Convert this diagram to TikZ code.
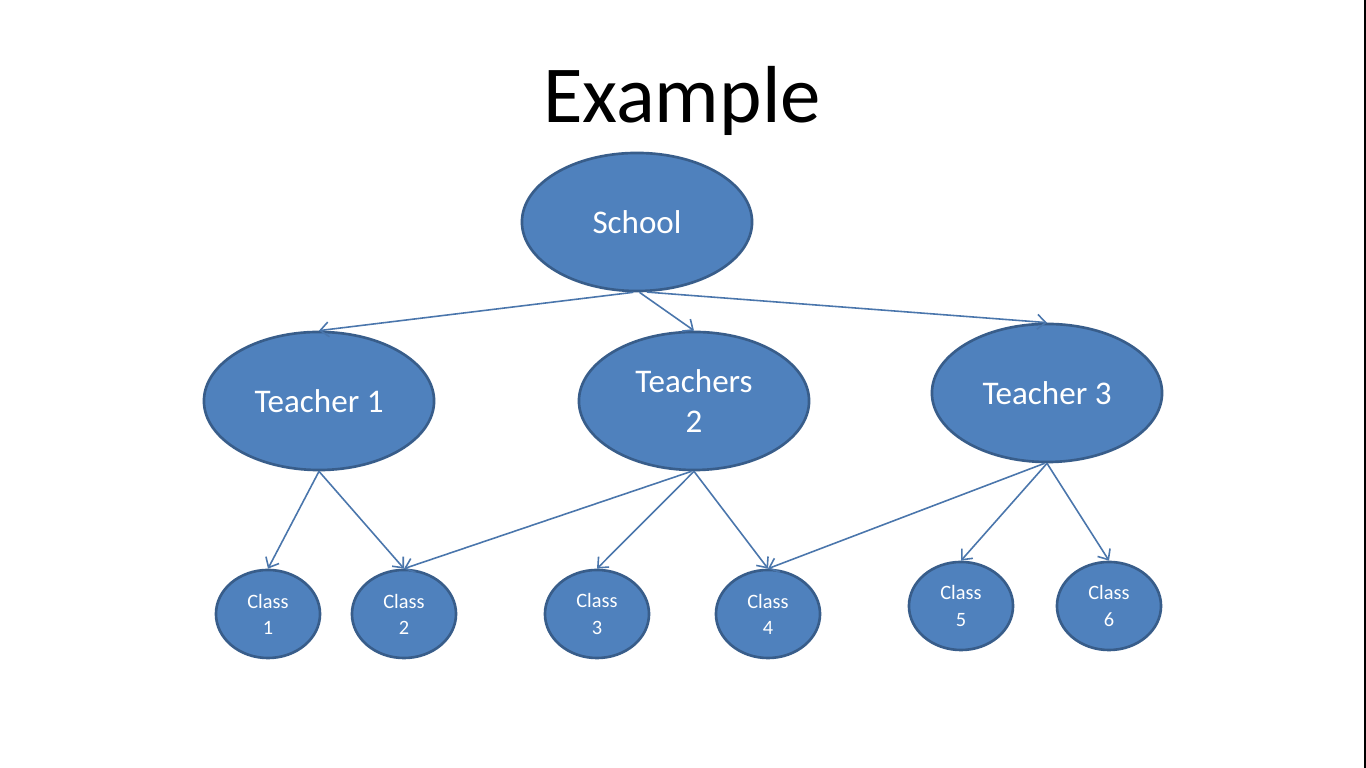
\documentclass[tikz,border=0pt]{standalone}
\usepackage{fontspec}
\setmainfont{Carlito}
\usetikzlibrary{shapes.geometric,arrows.meta}
\definecolor{nodefill}{HTML}{4F81BD}
\definecolor{nodeline}{HTML}{385D8A}
\definecolor{edgecol}{HTML}{4A76AC}
\begin{document}
\begin{tikzpicture}[x=0.01cm,y=-0.01cm,
  bignode/.style={ellipse,draw=nodeline,fill=nodefill,line width=0.75pt,
    minimum width=2.3cm,minimum height=1.38cm,inner sep=0pt,
    text=white,font=\fontsize{9.4}{11.4}\selectfont,align=center},
  smallnode/.style={ellipse,draw=nodeline,fill=nodefill,line width=0.75pt,
    minimum width=1.04cm,minimum height=0.88cm,inner sep=0pt,
    text=white,font=\fontsize{5.8}{7.4}\selectfont,align=center},
  link/.style={draw=edgecol,line width=0.45pt,-{Straight Barb[length=2.4pt,width=4.2pt]}}]
\useasboundingbox (0,0) rectangle (1366,768);
\fill[white] (0,0) rectangle (1366,768);
\fill[black] (1364,0) rectangle (1366,768);
\node[font=\fontsize{23}{26}\selectfont] (title) at (682,101) {Example};
\node[bignode] (school) at (637,222) {School};
\node[bignode] (t1) at (319,401) {Teacher 1};
\node[bignode] (t2) at (694,401) {Teachers\\2};
\node[bignode] (t3) at (1047,393) {Teacher 3};
\node[smallnode] (c1) at (268,614) {Class\\1};
\node[smallnode] (c2) at (404,614) {Class\\2};
\node[smallnode] (c3) at (597,614) {Class\\3};
\node[smallnode] (c4) at (768,614) {Class\\4};
\node[smallnode] (c5) at (961,606) {Class\\5};
\node[smallnode] (c6) at (1109,606) {Class\\6};
\draw[link] (school.267) -- (t1.north);
\draw[link] (school.272) -- (t2.north);
\draw[link] (school.278) -- (t3.north);
\draw[link] (t1.south) -- (c1.north);
\draw[link] (t1.south) -- (c2.north);
\draw[link] (t2.268) -- (c2.north);
\draw[link] (t2.south) -- (c3.north);
\draw[link] (t2.south) -- (c4.north);
\draw[link] (t3.268) -- (c4.north);
\draw[link] (t3.south) -- (c5.north);
\draw[link] (t3.south) -- (c6.north);
\end{tikzpicture}
\end{document}
